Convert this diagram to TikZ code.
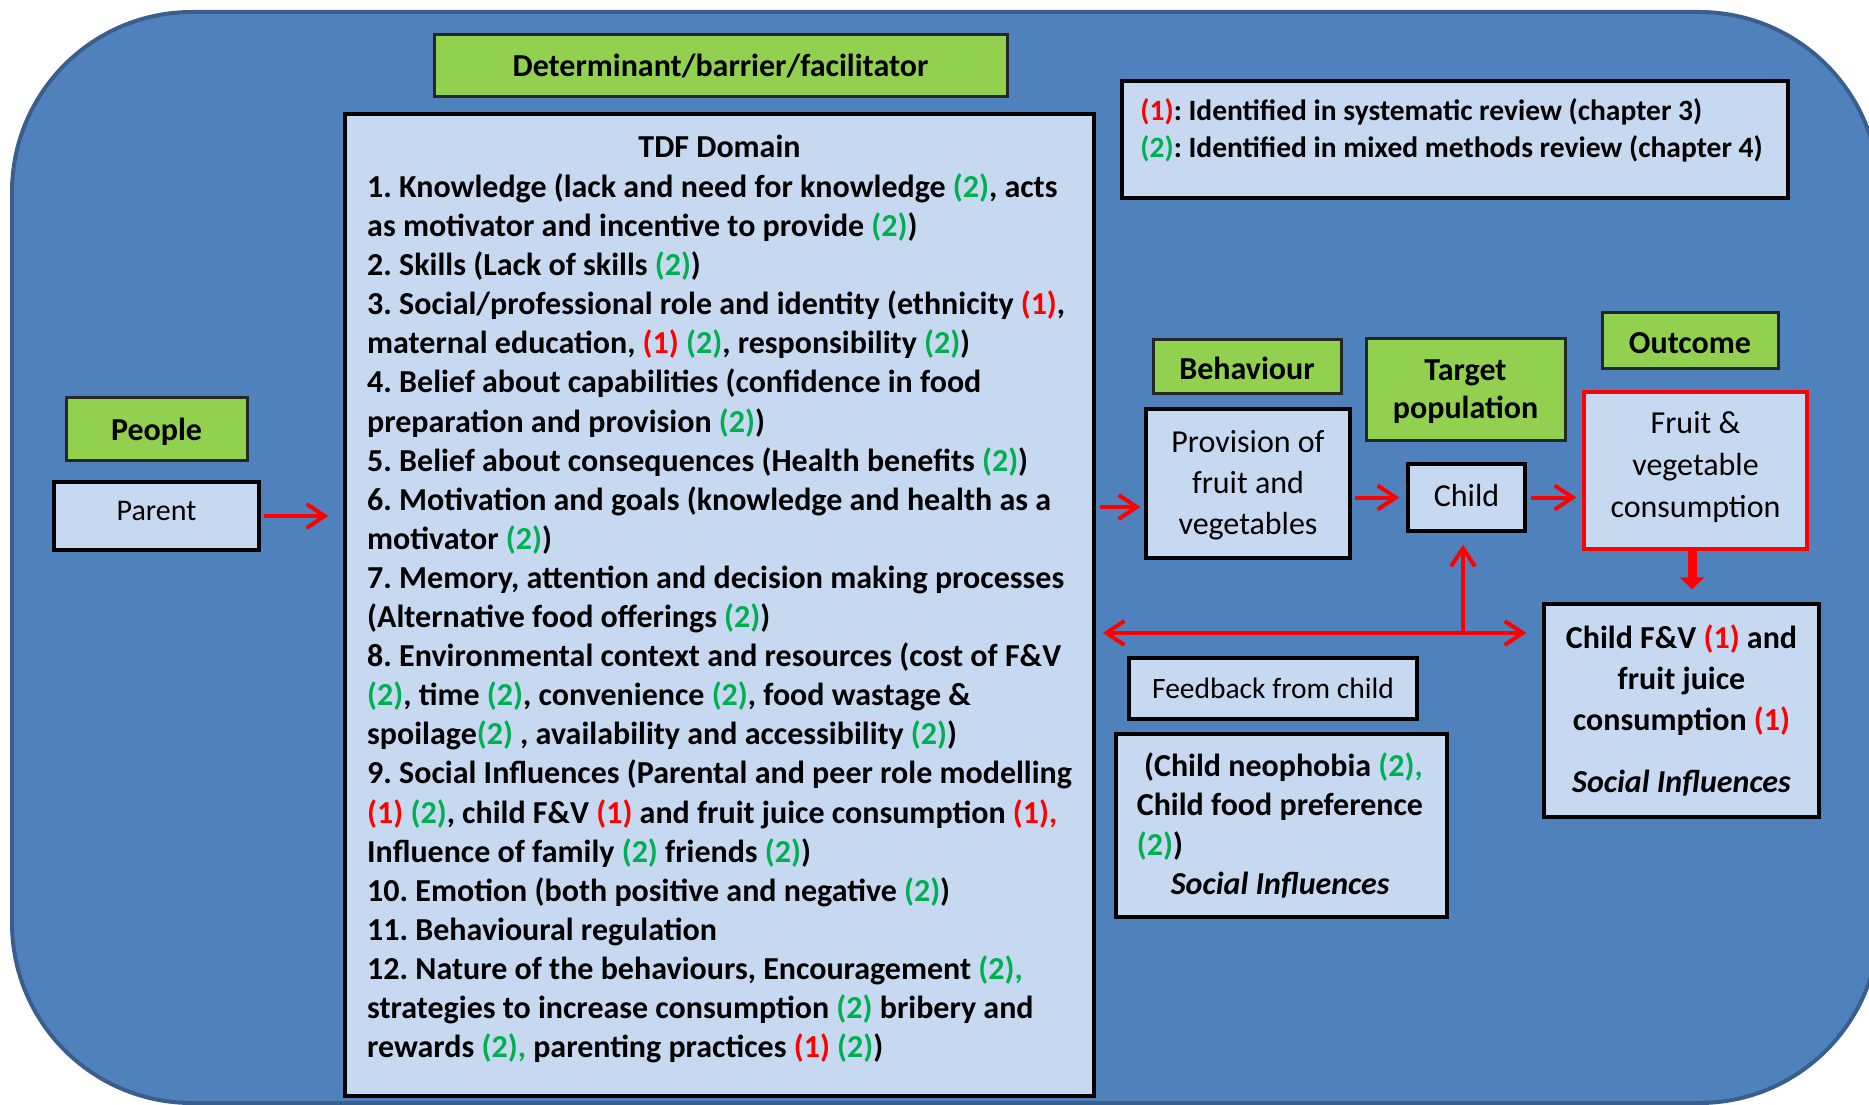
\documentclass[tikz,border=0pt]{standalone}
\usepackage{fontspec}
\setmainfont{Carlito}
\usetikzlibrary{arrows.meta,calc}
\definecolor{bgblue}{HTML}{4F81BD}
\definecolor{bgline}{HTML}{3A5F8E}
\definecolor{lbox}{HTML}{C6D9F1}
\definecolor{gbox}{HTML}{92D050}
\definecolor{gtxt}{HTML}{00B050}
\definecolor{rtxt}{HTML}{FF0000}
\newcommand{\Ro}{\textcolor{rtxt}{(1)}}
\newcommand{\Gt}{\textcolor{gtxt}{(2)}}
\newcommand{\fsz}[2]{\fontsize{#1}{#2}\selectfont}
\frenchspacing
\begin{document}
\begin{tikzpicture}[x=1pt,y=-1pt,
  lb/.style={draw=black, line width=3.5pt, fill=lbox, inner sep=0pt, align=center},
  gb/.style={draw=black!85, line width=3pt, fill=gbox, inner sep=0pt, align=center, font=\bfseries\fsz{32}{38}},
  txt/.style={inner sep=0pt, align=left},
  ra/.style={draw=rtxt, line width=4pt, -{Straight Barb[length=18pt,width=24pt]}},
]
\useasboundingbox (0,0) rectangle (1869,1105);
\draw[fill=bgblue, draw=bgline, line width=4pt, rounded corners=180pt] (12,12) rectangle (1879,1103);

% headers
\node[gb, minimum width=573pt, minimum height=62pt] (hdr) at (720.5,66) {Determinant/barrier/facilitator};
\node[gb, minimum width=181pt, minimum height=63pt, text height=24pt, text depth=0pt] (people) at (156.5,428.5) {People};
\node[gb, minimum width=188pt, minimum height=54pt, text height=26pt, text depth=0pt] (behav) at (1247,366) {Behaviour};
\node[gb, minimum width=199pt, minimum height=102pt, text depth=0pt] (target) at (1465.5,389) {Target\\population};
\node[gb, minimum width=176pt, minimum height=56pt, text height=26pt, text depth=0pt] (outcome) at (1690,340) {Outcome};

% TDF box
\node[lb, minimum width=749pt, minimum height=982pt] (tdf) at (719.5,605) {};
\node[txt, font=\bfseries\fsz{32}{39.1}, anchor=base] (tdftitle) at ([yshift=-45.5pt]tdf.north) {TDF Domain};
\node[txt, font=\bfseries\fsz{32}{39.1}, anchor=north west] (tdftxt) at (367,173.5) {%
1. Knowledge (lack and need for knowledge \Gt, acts\\
as motivator and incentive to provide \Gt)\\
2. Skills (Lack of skills \Gt)\\
3. Social/professional role and identity (ethnicity \Ro,\\
maternal education, \Ro{} \Gt, responsibility \Gt)\\
4. Belief about capabilities (confidence in food\\
preparation and provision \Gt)\\
5. Belief about consequences (Health benefits \Gt)\\
6. Motivation and goals (knowledge and health as a\\
motivator \Gt)\\
7. Memory, attention and decision making processes\\
(Alternative food offerings \Gt)\\
8. Environmental context and resources (cost of F\&V\\
\Gt, time \Gt, convenience \Gt, food wastage \&\\
spoilage\Gt{} , availability and accessibility \Gt)\\
9. Social Influences (Parental and peer role modelling\\
\Ro{} \Gt, child F\&V \Ro{} and fruit juice consumption \textcolor{rtxt}{(1),}\\
Influence of family \Gt{} friends \Gt)\\
10. Emotion (both positive and negative \Gt)\\
11. Behavioural regulation\\
12. Nature of the behaviours, Encouragement \textcolor{gtxt}{(2),}\\
strategies to increase consumption \Gt{} bribery and\\
rewards \textcolor{gtxt}{(2),} parenting practices \Ro{} \Gt)};

% legend
\node[lb, minimum width=666pt, minimum height=117pt] (leg) at (1455,139.5) {};
\node[txt, font=\bfseries\fsz{29.5}{37}, anchor=north west] (legtxt) at ([xshift=20pt,yshift=-19pt]leg.north west) {%
\Ro: Identified in systematic review (chapter 3)\\
\Gt: Identified in mixed methods review (chapter 4)};

% people / parent
\node[lb, minimum width=205pt, minimum height=68pt, font=\fsz{30}{36}, text depth=10pt] (parent) at (156.5,516) {Parent};

% behaviour chain
\node[lb, minimum width=204pt, minimum height=149pt, font=\fsz{32}{41}, text depth=3pt] (prov) at (1248,483.5) {Provision of\\fruit and\\vegetables};
\node[lb, minimum width=117pt, minimum height=67pt, font=\fsz{32}{41}, text depth=5pt] (child) at (1466.5,497.5) {Child};
\node[lb, draw=rtxt, minimum width=223pt, minimum height=157pt, font=\fsz{32}{42}, text depth=13pt] (fruit) at (1695.5,470.5) {Fruit \&\\vegetable\\consumption};
\node[lb, minimum width=275pt, minimum height=213pt, font=\bfseries\fsz{32}{41}] (cfv) at (1681.5,710.5) {Child F\&V \Ro{} and\\fruit juice\\consumption \Ro\\[21pt]\textit{Social Influences}};
\node[lb, minimum width=288pt, minimum height=61pt, font=\fsz{29.5}{36}] (fb) at (1273,688.5) {Feedback from child};
\node[lb, minimum width=331pt, minimum height=183pt] (neo) at (1281.5,825.5) {};
\node[txt, font=\bfseries\fsz{32}{39.3}, anchor=north west] (neotxt) at ([xshift=22.4pt,yshift=-20.4pt]neo.north west) {%
\ (Child neophobia \textcolor{gtxt}{(2),}\\
Child food preference\\
\Gt)\\
\hspace*{34pt}\textit{Social Influences}};

% arrows
\draw[ra, shorten <=3pt, shorten >=15pt] (parent.east) -- (tdf.west |- parent.east);
\coordinate (pin) at ([yshift=-23.5pt]prov.west);
\draw[ra, shorten <=4pt, shorten >=4pt] (tdf.east |- pin) -- (pin);
\draw[ra, shorten <=3pt, shorten >=7pt] (prov.east |- child.west) -- (child.west);
\draw[ra, shorten <=4pt, shorten >=6pt] (child.east) -- (fruit.west |- child.east);
\draw[draw=rtxt, line width=9pt, -{Triangle[length=12pt,width=24pt]}, shorten >=13pt] ([xshift=-3.5pt]fruit.south) -- ([xshift=-3.5pt]fruit.south |- cfv.north);
\coordinate (jn) at (1463,633);
\draw[draw=rtxt, line width=4pt, {Straight Barb[length=18pt,width=24pt]}-{Straight Barb[length=18pt,width=24pt]}, shorten <=7pt, shorten >=16pt] (tdf.east |- jn) -- (cfv.west |- jn);
\draw[ra, shorten >=12pt] (jn) -- (child.south -| jn);
\end{tikzpicture}
\end{document}
